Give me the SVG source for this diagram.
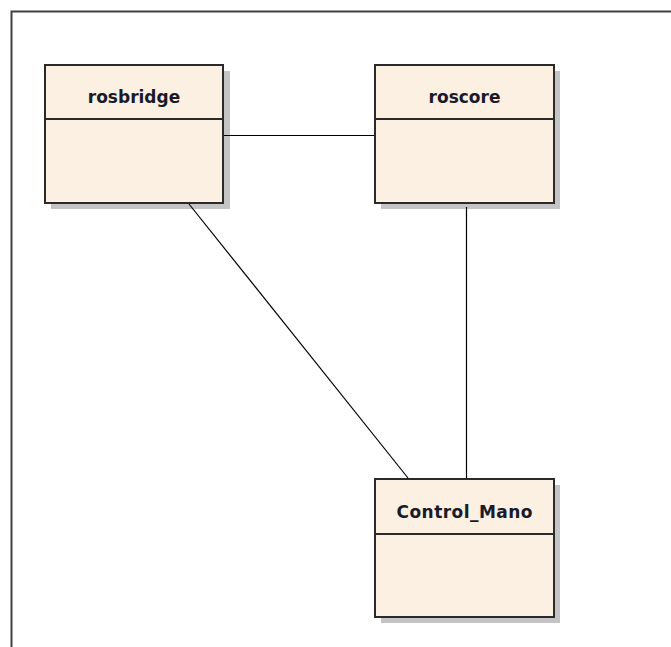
<svg xmlns="http://www.w3.org/2000/svg" width="671" height="647" viewBox="0 0 671 647">
  <style>
    .shadow { fill: #c4c4c4; }
    .box { fill: #fbf0e2; stroke: #2a2a2a; stroke-width: 2; }
    .sep { stroke: #2a2a2a; stroke-width: 2; }
    .label { font-family: "DejaVu Sans", Verdana, sans-serif; font-weight: bold; font-size: 17px; fill: #1a1a2a; text-anchor: middle; }
    .conn { stroke: #000; stroke-width: 1.2; fill: none; }
    .frame { stroke: #404040; stroke-width: 2; fill: none; }
  </style>
  <rect width="671" height="647" fill="#ffffff"/>

  <!-- diagram frame -->
  <path class="frame" d="M11.5 647 V11.5 H671"/>

  <!-- class nodes -->
  <g id="rosbridge">
    <rect class="shadow" x="51" y="71" width="179" height="138"/>
    <rect class="box" x="45" y="65" width="178" height="138"/>
    <line class="sep" x1="45" y1="119" x2="223" y2="119"/>
    <text class="label" x="134" y="103">rosbridge</text>
  </g>

  <g id="roscore">
    <rect class="shadow" x="381" y="71" width="179" height="138"/>
    <rect class="box" x="375" y="65" width="179" height="138"/>
    <line class="sep" x1="375" y1="119" x2="554" y2="119"/>
    <text class="label" x="464.5" y="103">roscore</text>
  </g>

  <g id="Control_Mano">
    <rect class="shadow" x="381" y="485" width="179" height="138"/>
    <rect class="box" x="375" y="479" width="179" height="138"/>
    <line class="sep" x1="375" y1="534" x2="554" y2="534"/>
    <text class="label" x="464.5" y="518" textLength="136" lengthAdjust="spacing">Control_Mano</text>
  </g>

  <!-- connectors -->
  <g id="connectors">
    <line class="conn" x1="224" y1="135.5" x2="374" y2="135.5"/>
    <line class="conn" x1="466.5" y1="207" x2="466.5" y2="478"/>
    <line class="conn" x1="189" y1="204" x2="408" y2="478"/>
  </g>
</svg>
